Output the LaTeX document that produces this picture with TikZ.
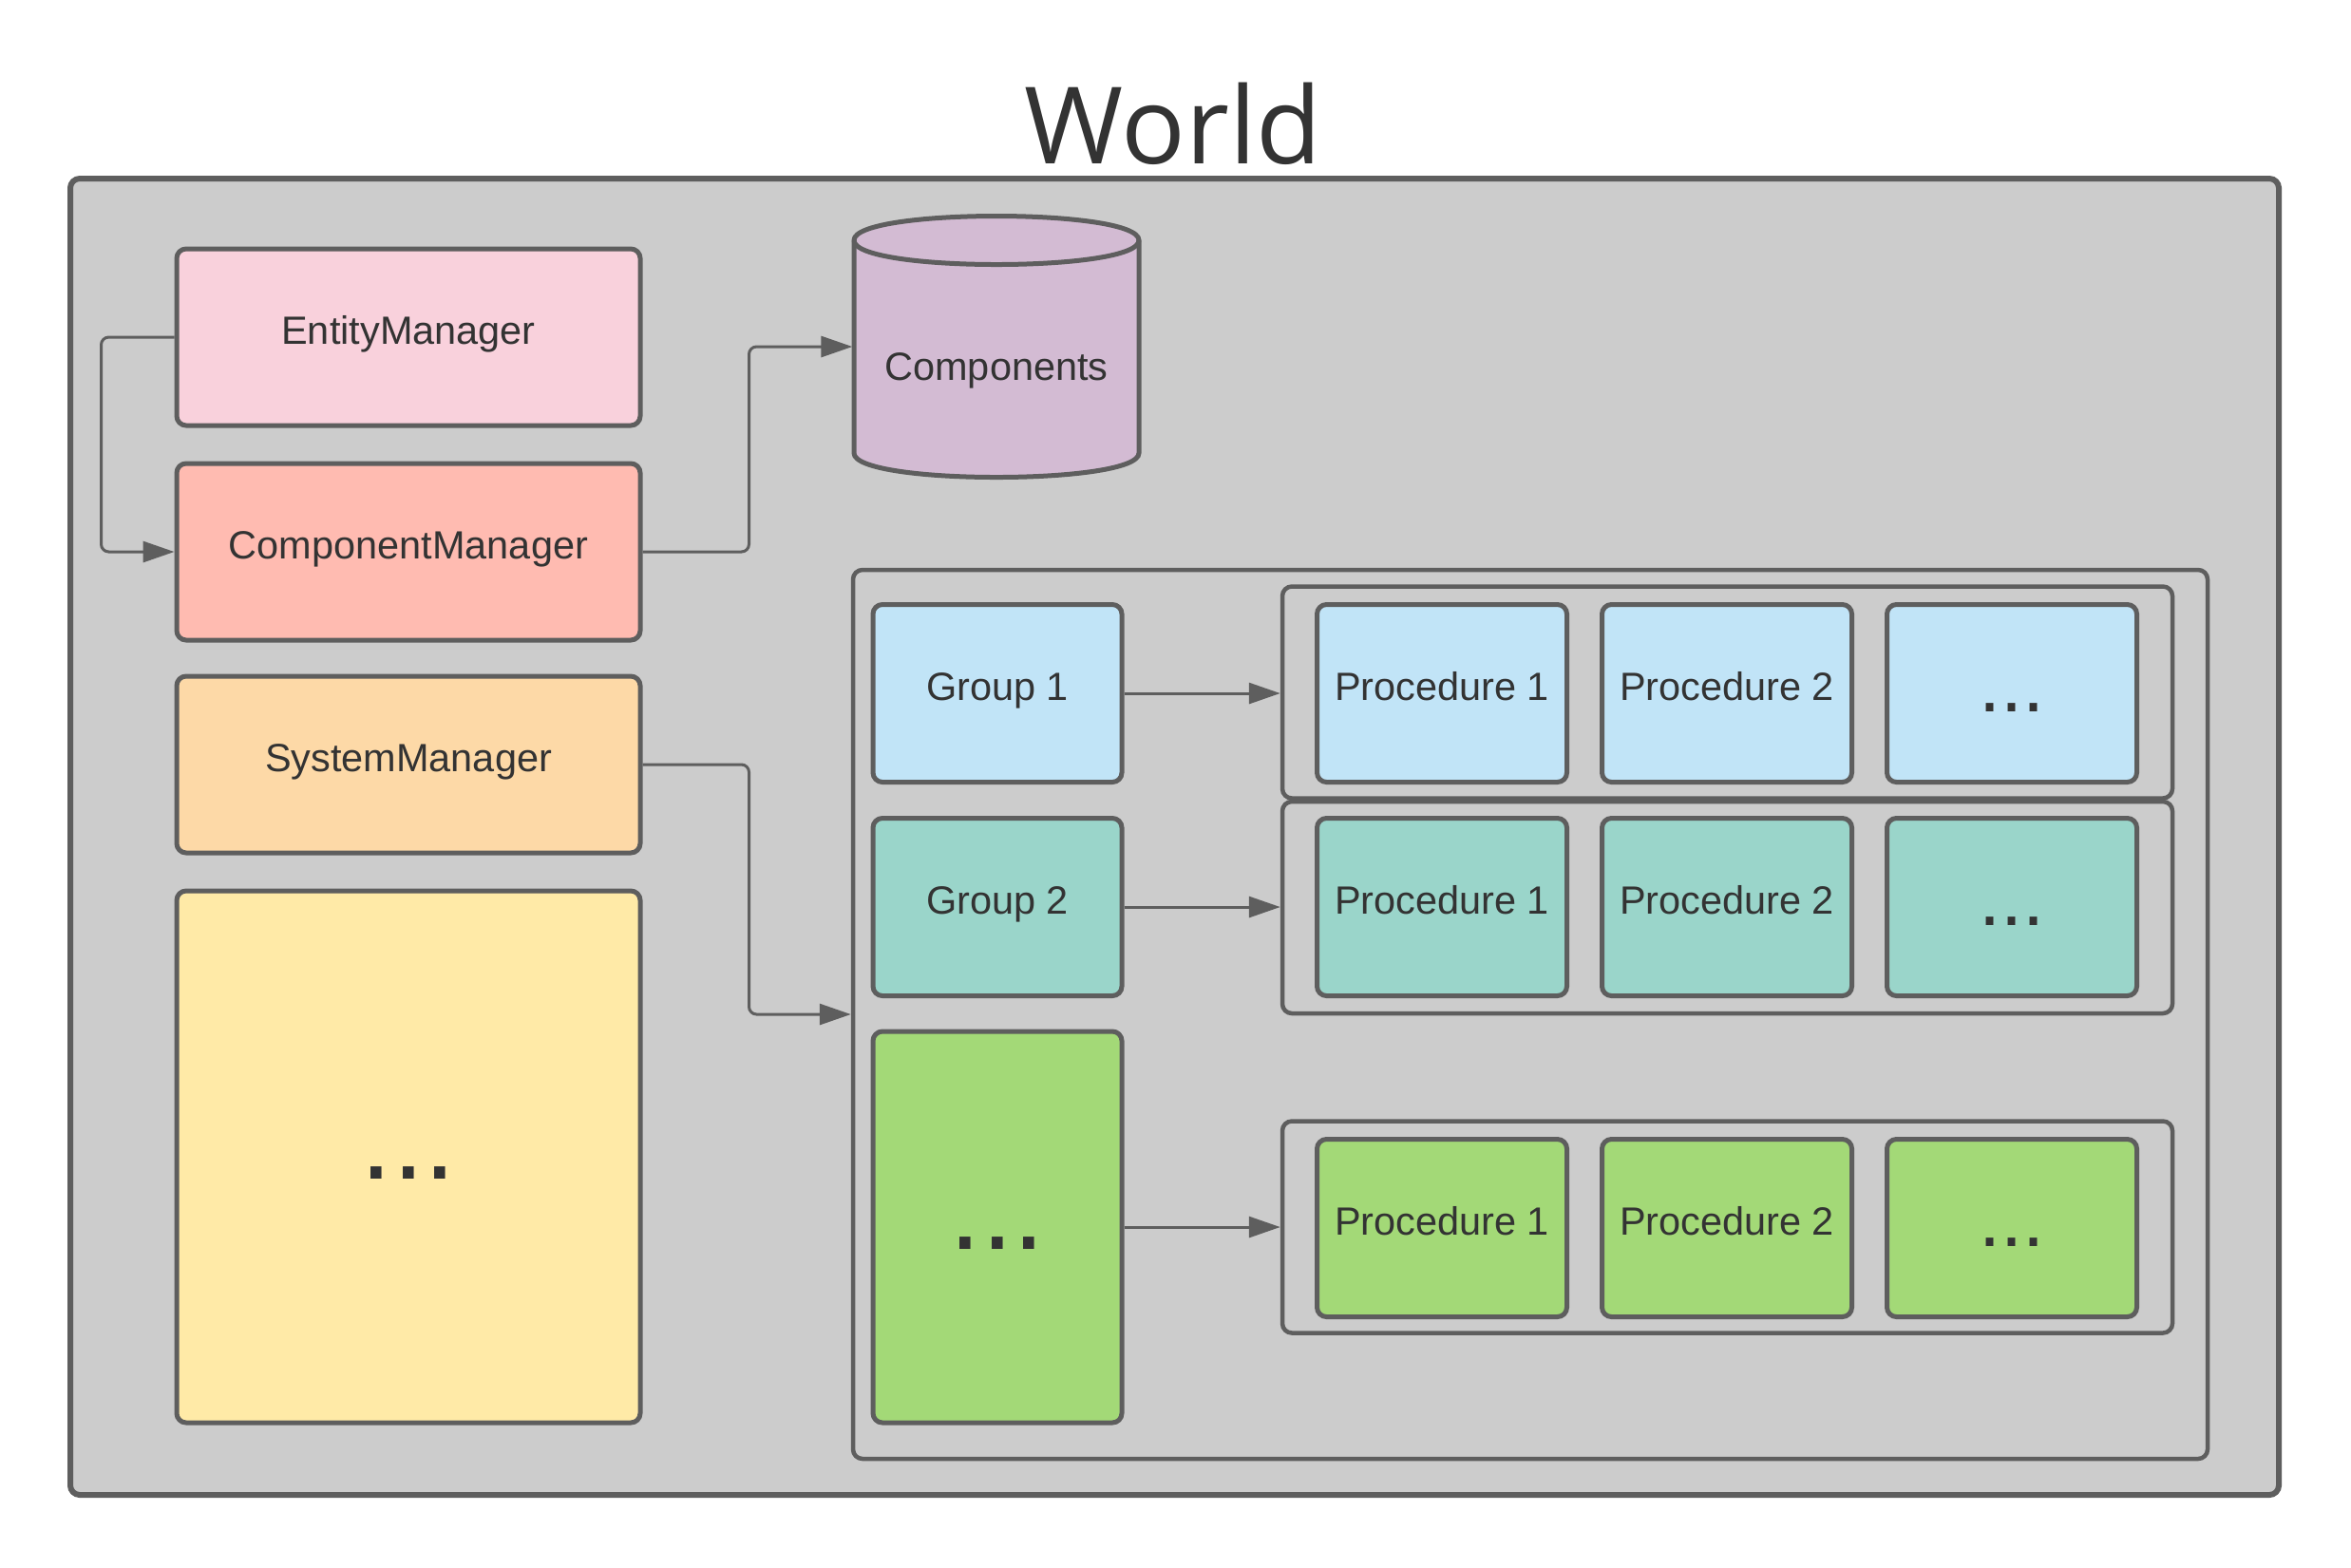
\documentclass[tikz,border=0pt]{standalone}
\usepackage{fontspec}
\setmainfont{Liberation Sans}
\newfontfamily\titlefont{Open Sans}
\usetikzlibrary{arrows.meta}
\definecolor{strokeg}{HTML}{5E5E5E}
\definecolor{bgg}{HTML}{CCCCCC}
\definecolor{txt}{HTML}{333333}
\definecolor{cpink}{HTML}{F9D1DC}
\definecolor{csalmon}{HTML}{FFBBB1}
\definecolor{corange}{HTML}{FDD9A7}
\definecolor{cyellow}{HTML}{FFEAA7}
\definecolor{clilac}{HTML}{D3BBD3}
\definecolor{cblue}{HTML}{C1E4F7}
\definecolor{cteal}{HTML}{9AD5CA}
\definecolor{cgreen}{HTML}{A3D977}
\begin{document}
\begin{tikzpicture}[
 box/.style={draw=strokeg, line width=0.05cm, rounded corners=0.1cm, inner sep=0pt, text=txt,
   font=\fontsize{11.8}{14}\selectfont, text height=0.3cm, text depth=0.16cm},
 mgr/.style={box, minimum width=4.88cm, minimum height=1.86cm},
 grp/.style={box, minimum width=2.62cm, minimum height=1.87cm},
 proc/.style={box, minimum width=2.63cm, minimum height=1.87cm},
 frame/.style={draw=strokeg, line width=0.045cm, rounded corners=0.1cm, inner sep=0pt, fill=bgg},
 cont/.style={frame, minimum width=9.37cm, minimum height=2.23cm},
 conn/.style={draw=strokeg, line width=0.03cm, rounded corners=0.08cm, -{Triangle[length=0.33cm,width=0.22cm]}},
 dots/.style={font=\fontsize{23.6}{28}\selectfont, text height=0.5cm, text depth=0.12cm},
 bigdots/.style={font=\fontsize{34.4}{40}\selectfont, text height=0.6cm, text depth=0.14cm},
]
\useasboundingbox[fill=white] (0,0) rectangle (24.75,-16.5);

% world
\node[frame, line width=0.06cm, minimum width=23.25cm, minimum height=13.86cm] (world) at (12.365,-8.81) {};
\node[text=txt, font=\titlefont\fontsize{32}{40}\selectfont, anchor=base, inner sep=0pt] (title) at (12.35,-1.72) {World};

% managers
\node[mgr, fill=cpink] (em) at (4.30,-3.55) {EntityManager};
\node[mgr, fill=csalmon] (cm) at (4.30,-5.81) {ComponentManager};
\node[mgr, fill=corange] (sm) at (4.30,-8.05) {SystemManager};
\node[box, bigdots, fill=cyellow, minimum width=4.88cm, minimum height=5.60cm] (more) at (4.30,-12.18) {...};

% components cylinder
\draw[fill=clilac, draw=strokeg, line width=0.05cm]
  (8.99,-2.53) -- (8.99,-4.77) .. controls (8.99,-5.11) and (11.99,-5.11) .. (11.99,-4.77)
  -- (11.99,-2.53) .. controls (11.99,-2.19) and (8.99,-2.19) .. (8.99,-2.53) -- cycle;
\draw[draw=strokeg, line width=0.05cm]
  (8.99,-2.53) .. controls (8.99,-2.87) and (11.99,-2.87) .. (11.99,-2.53);
\node[inner sep=0pt, minimum width=3.02cm, minimum height=2.24cm, text=txt,
  font=\fontsize{11.8}{14}\selectfont, text height=0.8cm, text depth=0.1cm] (comp) at (10.49,-3.65) {Components};

% systems
\node[frame, minimum width=14.26cm, minimum height=9.36cm] (sys) at (16.11,-10.68) {};
\node[cont] (c1) at (18.185,-7.29) {};
\node[cont] (c2) at (18.185,-9.555) {};
\node[cont] (c3) at (18.185,-12.92) {};

\node[grp, fill=cblue] (g1) at (10.50,-7.30) {Group 1};
\node[grp, fill=cteal] (g2) at (10.50,-9.55) {Group 2};
\node[box, bigdots, fill=cgreen, minimum width=2.62cm, minimum height=4.12cm] (g3) at (10.50,-12.92) {...};

\node[proc, fill=cblue] (p11) at (15.18,-7.30) {Procedure 1};
\node[proc, fill=cblue] (p12) at (18.18,-7.30) {Procedure 2};
\node[proc, dots, fill=cblue] (p13) at (21.18,-7.30) {...};
\node[proc, fill=cteal] (p21) at (15.18,-9.55) {Procedure 1};
\node[proc, fill=cteal] (p22) at (18.18,-9.55) {Procedure 2};
\node[proc, dots, fill=cteal] (p23) at (21.18,-9.55) {...};
\node[proc, fill=cgreen] (p31) at (15.18,-12.93) {Procedure 1};
\node[proc, fill=cgreen] (p32) at (18.18,-12.93) {Procedure 2};
\node[proc, dots, fill=cgreen] (p33) at (21.18,-12.93) {...};

% connectors
\draw[conn] (em.west) -- ++(-0.77,0) |- (cm.west);
\draw[conn] (cm.east) -- ++(1.12,0) |- (comp.west);
\draw[conn] (sm.east) -- ++(1.12,0) |- (sys.west);
\draw[conn] (g1.east) -- (g1.east -| c1.west);
\draw[conn] (g2.east) -- (g2.east -| c2.west);
\draw[conn] (g3.east) -- (g3.east -| c3.west);
\end{tikzpicture}
\end{document}
